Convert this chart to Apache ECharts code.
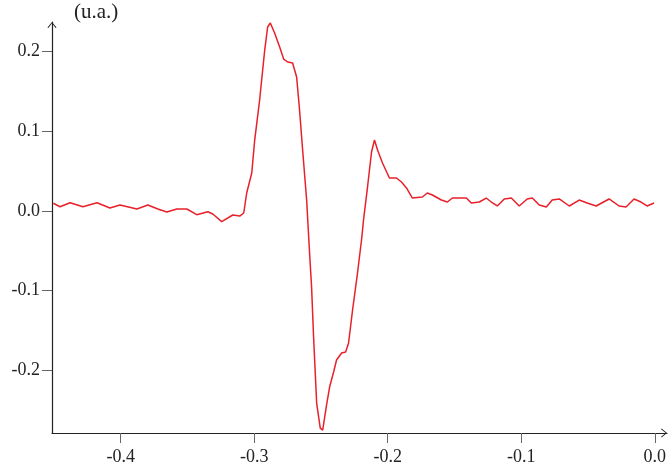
<!DOCTYPE html>
<html>
<head>
<meta charset="utf-8">
<script src="https://cdn.jsdelivr.net/npm/echarts@6/dist/echarts.min.js"></script>
<style>html,body{margin:0;padding:0;background:#fff}#c{width:669px;height:468px}</style>
</head>
<body>
<div id="c"></div>
<script>
var timeValues = [-0.4504,-0.4454,-0.4379,-0.4282,-0.4177,-0.4080,-0.4005,-0.3878,-0.3796,-0.3721,-0.3654,-0.3579,-0.3504,-0.3430,-0.3347,-0.3310,-0.3243,-0.3160,-0.3108,-0.3078,
-0.3056,-0.3018,-0.2996,-0.2959,-0.2921,-0.2899,-0.2879,-0.2847,-0.2809,-0.2779,-0.2749,-0.2712,-0.2682,-0.2660,-0.2637,-0.2607,-0.2585,-0.2570,-0.2555,-0.2532,-0.2505,-0.2487,-0.2458,-0.2435,-0.2405,-0.2383,-0.2345,-0.2315,-0.2293,-0.2263,-0.2226,-0.2196,-0.2181,-0.2151,-0.2121,-0.2099,-0.2076,-0.2039,-0.1987,-0.1934,-0.1897,-0.1859,-0.1837,-0.1815,
-0.1740,-0.1703,-0.1665,-0.1598,-0.1553,-0.1516,-0.1411,-0.1374,-0.1314,-0.1262,-0.1224,-0.1179,-0.1127,-0.1074,-0.1015,-0.0955,-0.0917,-0.0865,-0.0812,-0.0768,-0.0715,-0.0640,-0.0566,-0.0506,-0.0439,-0.0342,-0.0267,-0.0215,-0.0155,-0.0103,-0.0058,-0.0005];
var signalValues = [0.0097,0.0054,0.0104,0.0054,0.0104,0.0038,0.0075,0.0025,0.0075,0.0025,-0.0013,0.0025,0.0025,-0.0046,-0.0009,-0.0038,-0.0134,-0.0050,-0.0063,-0.0025,
0.0226,0.0477,0.0891,0.1394,0.2021,0.2310,0.2360,0.2235,0.2059,0.1908,0.1871,0.1858,0.1682,0.1268,0.0766,0.0138,-0.0527,-0.0954,-0.1582,-0.2411,-0.2725,-0.2750,-0.2436,-0.2210,-0.2021,-0.1871,-0.1783,-0.1770,-0.1657,-0.1243,-0.0778,-0.0364,-0.0113,0.0301,0.0741,0.0891,0.0766,0.0603,0.0414,0.0414,0.0364,0.0289,0.0226,0.0163,
0.0176,0.0226,0.0201,0.0138,0.0113,0.0163,0.0163,0.0100,0.0113,0.0163,0.0113,0.0063,0.0151,0.0163,0.0063,0.0151,0.0163,0.0075,0.0050,0.0138,0.0151,0.0063,0.0138,0.0100,0.0063,0.0151,0.0063,0.0050,0.0151,0.0113,0.0063,0.0100];
var xTicks = [-0.4,-0.3,-0.2,-0.1,0.0];
var yTicks = [-0.2,-0.1,0.0,0.1,0.2];
var yUnit = '(u.a.)';

var chart = echarts.init(document.getElementById('c'), null, {renderer:'canvas'});
var seriesData = timeValues.map(function(t,i){return [t, signalValues[i]];});
var arrowPath = 'path://M0,6 L5,0 L10,6 L9,6.6 L5,1.4 L1,6.6 Z';
var font = 'Liberation Serif';
chart.setOption({
  animation:false,
  grid:{left:52,right:1,top:22,bottom:35},
  xAxis:{
    type:'value', min:-0.4514, max:0.0092,
    axisLine:{show:true, onZero:false, lineStyle:{color:'#222',width:1.2}, symbol:['none',arrowPath], symbolSize:[10,6], symbolOffset:[0,-3]},
    axisTick:{show:true, inside:false, length:10, lineStyle:{color:'#666',width:1}, customValues:xTicks},
    axisLabel:{show:true, margin:15, fontFamily:font, fontSize:18, color:'#222', customValues:xTicks,
      formatter:function(v){return v.toFixed(1);}},
    splitLine:{show:false}
  },
  yAxis:{
    type:'value', min:-0.2787, max:0.2373,
    axisLine:{show:true, onZero:false, lineStyle:{color:'#222',width:1.2}, symbol:['none',arrowPath], symbolSize:[10,6], symbolOffset:[0,-3]},
    axisTick:{show:true, inside:false, length:10, lineStyle:{color:'#666',width:1}, customValues:yTicks},
    axisLabel:{show:true, margin:12, fontFamily:font, fontSize:18, color:'#222', customValues:yTicks,
      formatter:function(v){return v.toFixed(1);}},
    splitLine:{show:false}
  },
  graphic:[{type:'text', left:74, top:2, style:{text:yUnit, font:'21px "Liberation Serif"', fill:'#222'}}],
  series:[{
    type:'line', data:seriesData, showSymbol:false, symbol:'none',
    lineStyle:{color:'#e8202a', width:1.5}, z:3
  }]
});
</script>
</body>
</html>
